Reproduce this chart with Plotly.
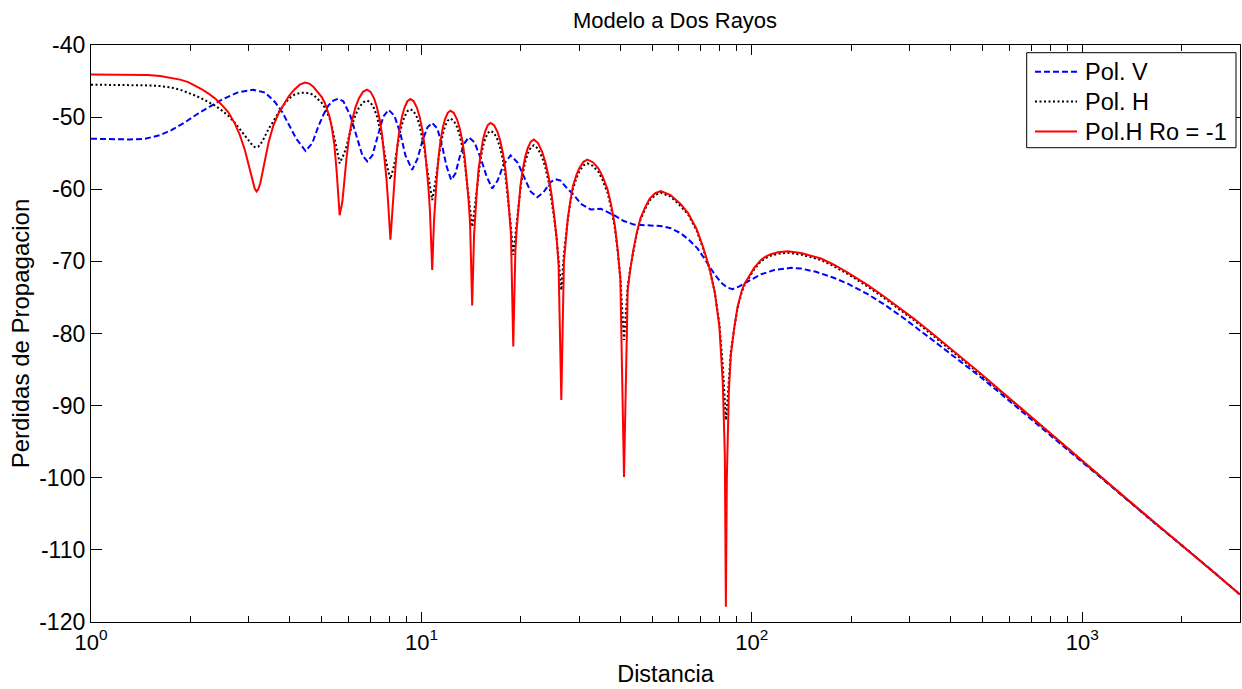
import math
import plotly.graph_objects as go

title_text = "Modelo a Dos Rayos"
x_label = "Distancia"
y_label = "Perdidas de Propagacion"
series_names = ["Pol. V", "Pol. H", "Pol.H Ro = -1"]

x_tick_vals = [1, 10, 100, 1000]
x_tick_text = ["10<sup>0</sup>", "10<sup>1</sup>", "10<sup>2</sup>", "10<sup>3</sup>"]
x_minor_vals = [2, 3, 4, 5, 6, 7, 8, 9,
                20, 30, 40, 50, 60, 70, 80, 90,
                200, 300, 400, 500, 600, 700, 800, 900,
                2000, 3000]
y_tick_vals = [-120, -110, -100, -90, -80, -70, -60, -50, -40]
y_tick_text = ["-120", "-110", "-100", "-90", "-80", "-70", "-60", "-50", "-40"]

# Pol. V (blue dashed)
dist_v = [1.000, 1.313, 1.458, 1.618, 1.751, 1.927, 2.110, 2.294, 2.482, 2.770,
          3.097, 3.367, 3.603, 3.791, 3.953, 4.180, 4.461, 4.674, 4.874, 5.047,
          5.226, 5.412, 5.604, 5.803, 6.093, 6.400, 6.625, 6.861, 7.104, 7.408,
          7.671, 7.960, 8.283, 8.637, 8.944, 9.372, 9.725, 10.07, 10.43, 10.78,
          11.18, 11.58, 11.91, 12.30, 12.68, 13.04, 13.50, 13.91, 14.47, 15.09,
          15.74, 16.38, 17.00, 17.72, 18.61, 19.54, 20.52, 21.39, 22.42, 23.43,
          24.60, 25.47, 26.38, 27.50, 28.94, 30.33, 32.52, 34.87, 38.26, 40.94,
          43.99, 47.73, 53.00, 56.83, 60.93, 64.43, 68.46, 72.54, 76.87, 80.55,
          83.99, 87.40, 91.33, 97.04, 106.5, 116.8, 131.3, 140.8, 156.3, 177.6,
          195.0, 224.2, 250.0, 282.8, 310.3, 356.8, 400.9, 494.2, 568.3, 787.2,
          993.0, 1253, 1618, 1995, 2460, 3000]
loss_v = [-53.0, -53.1, -53.0, -52.5, -51.8, -50.7, -49.5, -48.5, -47.6, -46.6,
          -46.2, -46.6, -47.9, -49.3, -50.9, -53.0, -54.7, -53.6, -51.3, -49.7,
          -48.4, -47.7, -47.45, -47.8, -49.8, -53.0, -55.3, -56.15, -55.3, -52.3,
          -49.9, -49.0, -49.8, -52.3, -55.3, -57.3, -55.8, -53.3, -51.4, -50.8,
          -51.6, -54.2, -56.8, -58.7, -57.8, -55.6, -53.6, -52.8, -53.5, -55.6,
          -58.2, -59.9, -58.8, -56.6, -55.3, -56.3, -58.5, -60.3, -61.1, -60.4,
          -59.0, -58.6, -58.8, -59.8, -60.8, -62.0, -62.8, -62.7, -63.6, -64.4,
          -64.9, -65.0, -65.1, -65.4, -66.1, -67.0, -68.2, -69.9, -71.7, -72.9,
          -73.6, -73.85, -73.5, -72.8, -71.8, -71.2, -70.9, -71.0, -71.45, -72.3,
          -73.1, -74.55, -75.9, -77.6, -78.95, -81.1, -82.9, -86.1, -88.4, -93.8,
          -97.7, -101.6, -105.9, -109.3, -112.8, -116.2]

# Pol. H (black dotted) and Pol.H Ro = -1 (red solid) share the same distances
dist_h = [1.000, 1.313, 1.488, 1.618, 1.751, 1.861, 1.968, 2.066, 2.159, 2.262,
          2.371, 2.477, 2.601, 2.726, 2.822, 2.923, 2.991, 3.033, 3.086, 3.129,
          3.169, 3.207, 3.252, 3.304, 3.360, 3.450, 3.561, 3.700, 3.863, 3.981,
          4.122, 4.284, 4.442, 4.577, 4.707, 4.840, 4.987, 5.100, 5.190, 5.274,
          5.348, 5.450, 5.538, 5.612, 5.655,
          5.764, 5.842, 5.932, 6.046, 6.163, 6.318, 6.465, 6.653, 6.846,
          7.015, 7.189, 7.330, 7.486, 7.609, 7.734, 7.835, 7.925, 8.055,
          8.168, 8.248, 8.341, 8.458, 8.577, 8.734, 8.881, 9.069, 9.261,
          9.474, 9.692, 9.869, 10.065, 10.22, 10.38, 10.50, 10.61, 10.78,
          10.91, 11.01, 11.12, 11.27, 11.41, 11.60, 11.78, 12.01, 12.24,
          12.52, 12.81, 13.05, 13.31, 13.51, 13.71, 13.88, 14.03, 14.24,
          14.43, 14.56, 14.71, 14.89, 15.09, 15.34, 15.58, 15.88, 16.18,
          16.57, 16.97, 17.30, 17.66, 17.94, 18.23, 18.46, 18.66, 18.96,
          19.24, 19.43, 19.66, 19.94, 20.23, 20.61, 20.97, 21.43, 21.89,
          22.53, 23.19, 23.73, 24.32, 24.79, 25.27, 25.66, 26.00, 26.50,
          26.99, 27.34, 27.74, 28.24, 28.76, 29.45, 30.09, 30.92, 31.78,
          33.02, 34.31, 35.38, 36.57, 37.52, 38.49, 39.28, 39.99, 41.02,
          42.09, 42.85, 43.74, 44.87, 46.03, 47.59, 49.07, 51.00, 53.00,
          56.73, 60.72, 64.12, 68.01, 71.16, 74.47, 77.22, 79.71, 81.68, 82.83, 83.41,
          83.99, 85.17, 86.37, 88.38, 90.50, 93.26, 95.00, 97.04, 101.6, 106.5,
          110.0, 114.2, 120.0, 128.3, 140.8, 161.8, 177.6, 195.0, 224.2, 250.0,
          282.8, 310.3, 356.8, 400.9, 494.2, 568.3, 787.2, 993.0, 1253, 1618,
          1995, 2460, 3000]
loss_h = [-45.5, -45.55, -45.6, -45.7, -45.9, -46.2, -46.6, -47.0, -47.4, -47.85,
          -48.4, -49.0, -49.8, -50.8, -51.7, -52.7, -53.3, -53.6, -53.95, -54.15,
          -54.2, -54.1, -53.8, -53.3, -52.6, -51.6, -50.6, -49.3, -48.1, -47.4,
          -46.9, -46.65, -46.6, -46.7, -46.9, -47.4, -48.0, -48.7, -49.4, -50.2,
          -51.1, -52.7, -54.4, -55.6, -56.4,
          -55.68, -55.01, -54.05, -52.47, -51.11, -49.69, -48.72, -47.96, -47.7,
          -47.97, -48.79, -49.85, -51.44, -53.05, -55.04, -56.38, -57.4, -58.6,
          -57.68, -56.86, -55.73, -53.96, -52.48, -50.97, -49.95, -49.17, -48.9,
          -49.18, -50.02, -51.13, -52.81, -54.56, -56.83, -58.46, -59.78, -61.5,
          -60.19, -59.11, -57.7, -55.63, -53.99, -52.37, -51.3, -50.48, -50.2,
          -50.49, -51.36, -52.5, -54.27, -56.16, -58.73, -60.73, -62.5, -65.2,
          -63.23, -61.77, -60.03, -57.66, -55.87, -54.15, -53.04, -52.19, -51.9,
          -52.19, -53.07, -54.24, -56.06, -58.03, -60.79, -63.04, -65.2, -69.1,
          -66.3, -64.49, -62.47, -59.88, -57.98, -56.2, -55.06, -54.19, -53.9,
          -54.39, -55.58, -57.05, -59.2, -61.49, -64.34, -66.82, -69.46, -74.0,
          -68.95, -66.6, -64.11, -61.81, -59.9, -58.45, -57.48, -56.69, -56.4,
          -56.75, -57.59, -58.79, -60.48, -62.65, -65.39, -68.74, -72.35, -80.9,
          -73.43, -70.97, -68.53, -66.09, -64.2, -62.67, -61.54, -60.8, -60.5,
          -61.0, -62.3, -63.5, -65.7, -68.2, -71.1, -74.3, -78.6, -84.5, -89.5, -92.0,
          -90.5, -86.0, -82.5, -79.3, -76.5, -74.2, -73.3, -72.6, -71.1, -70.0,
          -69.55, -69.2, -68.95, -68.8, -69.05, -69.8, -70.7, -71.75, -73.5, -75.0,
          -76.8, -78.2, -80.45, -82.35, -85.8, -88.1, -93.6, -97.6, -101.6, -105.9,
          -109.3, -112.8, -116.2]
loss_r = [-44.1, -44.1, -44.15, -44.3, -44.55, -44.8, -45.15, -45.6, -46.1, -46.7,
          -47.4, -48.2, -49.3, -50.9, -52.5, -54.6, -56.3, -57.5, -59.0, -59.9,
          -60.3, -60.0, -59.2, -57.8, -56.0, -53.4, -51.2, -49.4, -47.9, -47.0,
          -46.2, -45.5, -45.2, -45.35, -45.8, -46.4, -47.2, -48.0, -48.9, -50.0,
          -51.3, -53.8, -57.5, -61.5, -63.6,
          -61.7, -58.5, -55.7, -52.6, -50.5, -48.6, -47.4, -46.5, -46.2,
          -46.5, -47.4, -48.6, -50.5, -52.6, -55.7, -58.5, -61.7, -67.0,
          -63.0, -59.8, -57.0, -53.9, -51.8, -49.9, -48.7, -47.8, -47.5,
          -47.8, -48.7, -49.9, -51.8, -53.9, -57.0, -59.8, -63.0, -71.2,
          -64.6, -61.4, -58.6, -55.5, -53.4, -51.5, -50.3, -49.4, -49.1,
          -49.4, -50.3, -51.5, -53.4, -55.5, -58.6, -61.4, -64.6, -76.1,
          -66.3, -63.1, -60.3, -57.2, -55.1, -53.2, -52.0, -51.1, -50.8,
          -51.1, -52.0, -53.2, -55.1, -57.2, -60.3, -63.1, -66.3, -81.8,
          -68.6, -65.4, -62.6, -59.5, -57.4, -55.5, -54.3, -53.4, -53.1,
          -53.6, -54.8, -56.3, -58.5, -60.9, -64.0, -66.9, -70.5, -89.2,
          -70.0, -66.9, -64.0, -61.5, -59.5, -58.0, -57.0, -56.2, -55.9,
          -56.25, -57.1, -58.3, -60.0, -62.2, -65.0, -68.5, -72.5, -99.9,
          -74.0, -71.15, -68.5, -65.95, -64.0, -62.45, -61.3, -60.55, -60.25,
          -60.8, -62.0, -63.3, -65.5, -68.0, -71.0, -74.3, -79.0, -87.0, -97.0, -117.9,
          -100.0, -88.0, -83.0, -79.3, -76.3, -74.0, -73.1, -72.4, -70.9, -69.8,
          -69.35, -69.0, -68.75, -68.6, -68.85, -69.6, -70.5, -71.55, -73.3, -74.8,
          -76.6, -78.0, -80.25, -82.15, -85.6, -88.0, -93.5, -97.5, -101.5, -105.8,
          -109.3, -112.8, -116.2]

FONT = "Liberation Sans, Arial, Helvetica, sans-serif"
colors = ["#0000FF", "#000000", "#FF0000"]
dashes = ["6px,3px", "2px,2.5px", "solid"]

# plot area in pixels (for placing the hand-drawn legend box)
PL, PR, PT, PB = 91, 1240, 45, 622


def fx(px):
    return (px - PL) / (PR - PL)


def fy(py):
    return 1 - (py - PT) / (PB - PT)


fig = go.Figure()
fig.add_trace(go.Scatter(x=dist_v, y=loss_v, mode="lines", name=series_names[0],
                         showlegend=False,
                         line=dict(color=colors[0], width=2, dash=dashes[0])))
fig.add_trace(go.Scatter(x=dist_h, y=loss_h, mode="lines", name=series_names[1],
                         showlegend=False,
                         line=dict(color=colors[1], width=2, dash=dashes[1])))
fig.add_trace(go.Scatter(x=dist_h, y=loss_r, mode="lines", name=series_names[2],
                         showlegend=False,
                         line=dict(color=colors[2], width=2, dash=dashes[2])))

# legend box drawn like the MATLAB one
shapes = [dict(type="rect", xref="paper", yref="paper",
               x0=fx(1026.7), x1=fx(1236), y0=fy(147.7), y1=fy(52.7),
               line=dict(color="black", width=1), fillcolor="white", layer="above")]
annotations = []
rows = [71.7, 101.5, 131.5]
for name, col, dsh, row in zip(series_names, colors, dashes, rows):
    shapes.append(dict(type="line", xref="paper", yref="paper",
                       x0=fx(1035), x1=fx(1077), y0=fy(row), y1=fy(row),
                       line=dict(color=col, width=2, dash=dsh), layer="above"))
    annotations.append(dict(text=name, xref="paper", yref="paper",
                            x=fx(1083), y=fy(row), xanchor="left", yanchor="middle",
                            showarrow=False,
                            font=dict(family=FONT, size=23.5, color="black")))

fig.update_layout(
    width=1242, height=689,
    margin=dict(l=91, r=2, t=45, b=67),
    paper_bgcolor="white", plot_bgcolor="white",
    font=dict(family=FONT, size=22, color="black"),
    title=dict(text=title_text, x=675 / 1242, xref="container", xanchor="center",
               y=1 - 20 / 689, yref="container", yanchor="middle",
               font=dict(family=FONT, size=22, color="black")),
    showlegend=False,
    shapes=shapes,
    annotations=annotations,
)

fig.update_xaxes(
    type="log", range=[0, math.log10(3000)],
    tickmode="array", tickvals=x_tick_vals, ticktext=x_tick_text,
    ticks="inside", ticklen=10, tickwidth=1, tickcolor="black",
    showline=True, linecolor="black", linewidth=1.3, mirror="ticks",
    showgrid=False, zeroline=False,
    tickfont=dict(family=FONT, size=22, color="black"),
    minor=dict(tickmode="array", tickvals=x_minor_vals, ticks="inside",
               ticklen=6, tickwidth=1, tickcolor="black", showgrid=False),
    title=dict(text=x_label, font=dict(family=FONT, size=23.5, color="black"), standoff=12),
)
fig.update_yaxes(
    range=[-120, -40],
    tickmode="array", tickvals=y_tick_vals, ticktext=y_tick_text,
    ticks="inside", ticklen=11, tickwidth=1, tickcolor="black",
    showline=True, linecolor="black", linewidth=1.3, mirror="ticks",
    showgrid=False, zeroline=False,
    tickfont=dict(family=FONT, size=23, color="black"),
    title=dict(text=y_label, font=dict(family=FONT, size=24, color="black"), standoff=2),
)

fig.write_html("out.html")
